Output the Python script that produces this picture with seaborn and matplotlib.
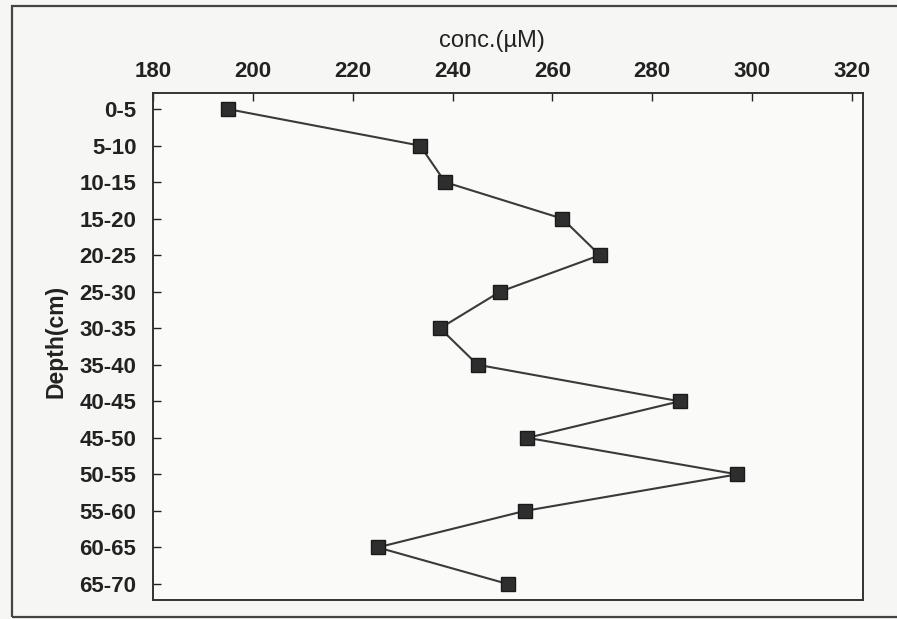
import numpy as np
import pandas as pd
import matplotlib
matplotlib.use("Agg")
import matplotlib.pyplot as plt
import seaborn as sns
from matplotlib.patches import Rectangle

# Depth intervals (cm) and measured concentration (µM)
depths = ["0-5", "5-10", "10-15", "15-20", "20-25", "25-30", "30-35",
          "35-40", "40-45", "45-50", "50-55", "55-60", "60-65", "65-70"]
conc = [195, 233.5, 238.5, 262, 269.5, 249.5, 237.5,
        245, 285.5, 255, 297, 254.5, 225, 251]
x_ticks = [180, 200, 220, 240, 260, 280, 300, 320]

sns.set_theme(style="white")
plt.rcParams["font.family"] = ["Liberation Sans", "DejaVu Sans"]

df = pd.DataFrame({"depth": depths, "conc": conc, "pos": np.arange(len(depths))})

fig = plt.figure(figsize=(8.97, 6.19), dpi=100)
fig.patch.set_facecolor("#f6f6f4")
ax = fig.add_axes([0.1706, 0.0307, 0.7915, 0.819])
ax.set_facecolor("#fafaf9")

sns.lineplot(data=df, x="conc", y="pos", sort=False, estimator=None,
             color="#3a3a3a", linewidth=1.5, marker="s", markersize=10,
             markerfacecolor="#2e2e2e", markeredgecolor="#1a1a1a",
             markeredgewidth=1.0, ax=ax)

ax.set_xlim(181.2, 322.2)
ax.set_ylim(len(depths) - 1 + 0.44, -0.44)
ax.xaxis.tick_top()
ax.xaxis.set_label_position("top")
ax.set_xticks(x_ticks)
ax.set_yticks(df["pos"])
ax.set_yticklabels(depths)
ax.set_xlabel("conc.(µM)", fontsize=17, color="#222222")
ax.xaxis.set_label_coords(0.478, 1.09)
ax.set_ylabel("Depth(cm)", fontsize=16.5, color="#222222", fontweight="bold")
ax.yaxis.set_label_coords(-0.12, 0.51)
ax.tick_params(axis="x", pad=8)
ax.tick_params(axis="y", pad=12)
ax.tick_params(axis="both", labelsize=16, colors="#222222", direction="in",
               length=6, width=1.0, top=True, left=True, bottom=False, right=False)
for lbl in ax.get_xticklabels() + ax.get_yticklabels():
    lbl.set_fontweight("bold")
for sp in ax.spines.values():
    sp.set_color("#333333")
    sp.set_linewidth(1.4)

# Border around the whole figure
fig.patches.append(Rectangle((0.013, 0.004), 1.1, 0.987, transform=fig.transFigure,
                             fill=False, edgecolor="#444444", linewidth=1.6))

fig.savefig("out.png", dpi=100, facecolor=fig.get_facecolor())
